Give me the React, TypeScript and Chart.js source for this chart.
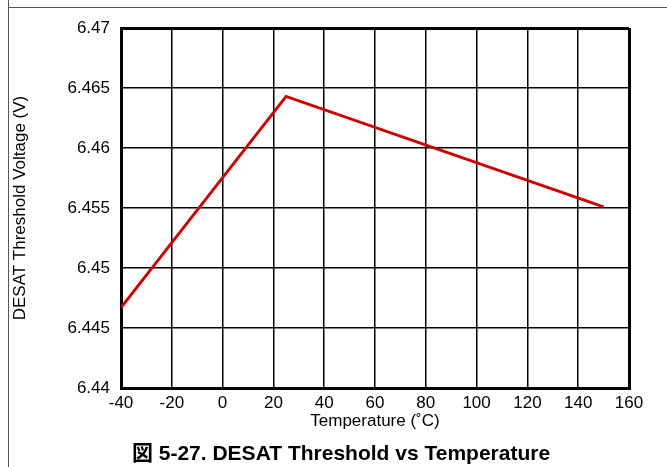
import React, { useEffect, useRef } from "react";
import { Chart, registerables } from "chart.js";

Chart.register(...registerables);

const temperatures = [-40, 25, 150];
const thresholdVoltage = [6.4467, 6.4643, 6.4551];
const xTickLabels = ["-40", "-20", "0", "20", "40", "60", "80", "100", "120", "140", "160"];
const yTickLabels = ["6.44", "6.445", "6.45", "6.455", "6.46", "6.465", "6.47"];
const xTitle = "Temperature (˚C)";
const yTitle = "DESAT Threshold Voltage (V)";
const caption = "図 5-27. DESAT Threshold vs Temperature";

const FONT = "'Liberation Sans', Arial, 'Noto Sans CJK JP', sans-serif";

export default function App() {
  const ref = useRef<HTMLCanvasElement | null>(null);

  useEffect(() => {
    if (!ref.current) return;
    const edgeWidth = (n: number) => (ctx: any) =>
      ctx.index === 0 || ctx.index === n - 1 ? 3 : 1.5;
    const chart = new Chart(ref.current, {
      type: "line",
      data: {
        datasets: [
          {
            data: temperatures.map((t, i) => ({ x: t, y: thresholdVoltage[i] })),
            borderColor: "#cc0000",
            borderWidth: 3,
            pointRadius: 0,
            fill: false,
            tension: 0,
          },
        ],
      },
      options: {
        animation: false,
        responsive: false,
        layout: { padding: { left: 53, right: 38, top: 28, bottom: 0.4 } },
        plugins: {
          legend: { display: false },
          tooltip: { enabled: false },
          title: {
            display: true,
            position: "bottom",
            text: caption,
            color: "#000",
            font: { family: FONT, size: 21, weight: "bold" },
            padding: { top: 9.7, bottom: 0 },
          },
        },
        scales: {
          x: {
            type: "linear",
            min: -40,
            max: 160,
            ticks: {
              stepSize: 20,
              padding: 5.3,
              color: "#000",
              font: { family: FONT, size: 17 },
              maxRotation: 0,
              callback: (v: any) => {
                const s = xTickLabels.find((l) => Math.abs(parseFloat(l) - Number(v)) < 1e-6);
                return s ?? "";
              },
            },
            grid: { color: "#000", lineWidth: edgeWidth(xTickLabels.length), drawTicks: false },
            border: { color: "#000", width: 3 },
            title: {
              display: true,
              text: xTitle,
              color: "#000",
              font: { family: FONT, size: 17 },
              padding: { top: 0, bottom: 0 },
            },
            afterFit: (s: any) => {
              s.height = 43.7;
            },
          },
          y: {
            type: "linear",
            min: 6.44,
            max: 6.47,
            ticks: {
              stepSize: 0.005,
              padding: 11,
              color: "#000",
              font: { family: FONT, size: 17 },
              callback: (v: any) => {
                const s = yTickLabels.find((l) => Math.abs(parseFloat(l) - Number(v)) < 1e-6);
                return s ?? "";
              },
            },
            grid: { color: "#000", lineWidth: edgeWidth(yTickLabels.length), drawTicks: false },
            border: { color: "#000", width: 3 },
            title: {
              display: true,
              text: yTitle,
              color: "#000",
              font: { family: FONT, size: 17 },
              padding: { top: -43.2, bottom: 0 },
            },
            afterFit: (s: any) => {
              s.width = 68;
            },
          },
        },
      },
    } as any);
    return () => chart.destroy();
  }, []);

  return (
    <div style={{ position: "fixed", left: 0, top: 0, width: 667, height: 467, background: "#fff" }}>
      <canvas ref={ref} width={667} height={467} style={{ position: "absolute", left: 0, top: 0, width: 667, height: 467 }} />
      <div
        style={{
          position: "absolute",
          left: 8,
          top: 0,
          width: 1,
          height: 467,
          background: "#555",
        }}
      />
      <div
        style={{
          position: "absolute",
          left: 8,
          top: 7,
          width: 659,
          height: 1,
          background: "#555",
        }}
      />
    </div>
  );
}
